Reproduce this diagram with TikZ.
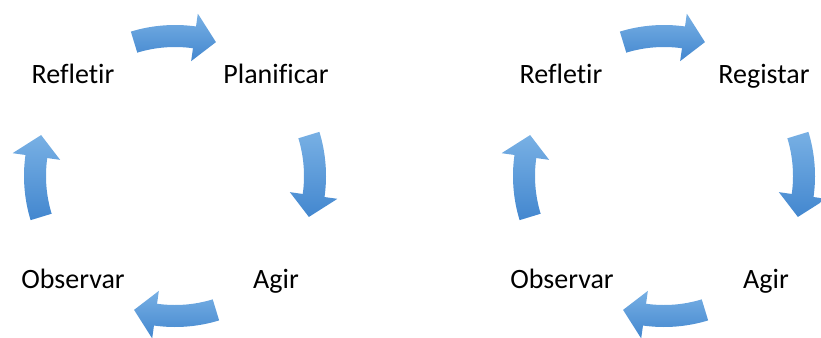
\documentclass[tikz,border=0pt]{standalone}
\usepackage{fontspec}
\setmainfont{Carlito}[Ligatures={NoCommon}]
\usepackage{xcolor}
\usetikzlibrary{calc}
\definecolor{cyclight}{HTML}{78B0E4}
\definecolor{cycdark}{HTML}{4387CF}

\begin{document}
\begin{tikzpicture}[x=0.75pt, y=0.75pt,
  stage/.style={anchor=base, inner sep=0pt, font=\fontsize{21}{25}\selectfont},
  cyc/.style={top color=cyclight, bottom color=cycdark, draw=none}]
  \useasboundingbox (0,0) rectangle (821,337);
  \coordinate (cycL) at (175,161);
  \coordinate (cycR) at (664,161);
  % the four bent arrows of each cycle
  \foreach \c in {cycL, cycR}
    \foreach \t in {90, 0, -90, 180}
      \shade[cyc] ($(\c)+(\t+17:151)$)
        arc[start angle=\t+17, end angle=\t-8, radius=151]
        -- ($(\c)+(\t-8:164)$) -- ($(\c)+(\t-17:140)$)
        -- ($(\c)+(\t-8:116)$) -- ($(\c)+(\t-8:129)$)
        arc[start angle=\t-8, end angle=\t+17, radius=129] -- cycle;
  \node[stage] (refL) at (73,254) {Refletir};
  \node[stage] (plan) at (276,254) {Planificar};
  \node[stage] (agirL) at (276,49) {Agir};
  \node[stage] (obsL) at (73,49) {Observar};
  \node[stage] (refR) at (561,254) {Refletir};
  \node[stage] (reg) at (764,254) {Registar};
  \node[stage] (agirR) at (766,49) {Agir};
  \node[stage] (obsR) at (562,49) {Observar};
\end{tikzpicture}
\end{document}
